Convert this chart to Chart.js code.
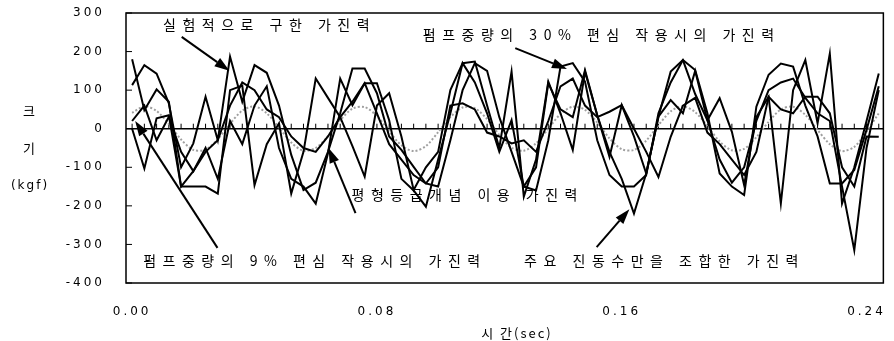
<!DOCTYPE html>
<html>
<head>
<meta charset="utf-8">
<script src="https://cdn.jsdelivr.net/npm/chart.js@4"></script>
<style>
html,body{margin:0;padding:0;background:#fff;}
</style>
</head>
<body>
<canvas id="grafik" width="894" height="341"></canvas>
<script>

// =========================
// DATA GRAFIK
// =========================

let sigan = [0,0.004,0.008,0.012,0.016,0.020,0.024,0.028,0.032,0.036,
0.040,0.044,0.048,0.052,0.056,0.060,0.064,0.068,0.072,0.076,
0.080,0.084,0.088,0.092,0.096,0.100,0.104,0.108,0.112,0.116,
0.120,0.124,0.128,0.132,0.136,0.140,0.144,0.148,0.152,0.156,
0.160,0.164,0.168,0.172,0.176,0.180,0.184,0.188,0.192,0.196,
0.200,0.204,0.208,0.212,0.216,0.220,0.224,0.228,0.232,0.236,
0.240,0.244];

// 실험적으로 구한 가진력
let silheom = [180,48,102,70,-150,-150,-150,-168,100,112,
-146,-40,14,-168,-60,130,80,30,-45,-124,
60,92,-20,-159,-100,-60,100,170,174,60,
-50,148,-176,-80,122,40,-55,148,35,-73,
61,-20,-116,31,148,178,90,22,79,-8,
-146,30,83,-194,100,178,14,195,-194,-100,
20,143];

// 펌프중량의 30% 편심
let pyeonsim30 = [113,165,143,66,-100,-38,83,-30,187,70,
165,145,60,-68,-159,-140,-60,40,156,156,
92,-20,-55,-99,-142,-150,-30,100,170,150,
30,-60,-150,-160,-30,161,170,122,-30,-120,
-150,-150,-120,40,120,178,152,40,-116,-150,
-172,57,140,169,161,60,-20,-142,-142,-107,
-3,110];

// 펌프중량의 9% 편심
let pyeonsim9 = [0,-103,27,35,-150,-110,-60,-30,60,120,
100,50,30,-20,-50,-60,-20,30,70,118,
40,-40,-80,-120,-142,-100,60,66,50,-10,
-20,-38,-30,-60,20,110,130,60,30,44,
61,0,-60,-125,-21,60,80,-10,-40,-80,
-120,-60,83,50,40,83,83,40,-100,-150,
-20,-21];

// 주요 진동수만을 조합한 가진력
let jindong = [20,60,-30,31,-60,-110,-50,-130,20,-40,
60,110,-50,-130,-150,-194,-64,130,61,118,
118,22,-130,-160,-202,-80,40,170,120,40,
-60,22,-150,-100,118,50,30,152,35,-60,
-130,-220,-116,31,74,40,150,22,-80,-140,
-100,20,100,120,130,80,40,20,-150,-315,
-50,100];

// 평형등급개념 이용 가진력
let pyeonghyeong = [41,58,46,12,-28,-55,-54,-27,13,47,
58,40,3,-36,-57,-50,-19,22,52,56,
33,-7,-43,-58,-45,-9,30,55,53,25,
-16,-49,-57,-38,0,38,57,49,16,-25,
-53,-55,-31,9,45,58,43,7,-33,-56,
-52,-22,18,50,57,36,-3,-40,-58,-47,
-8,40];

let tickX = [0,0.08,0.16,0.24];
let tickY = [300,200,100,0,-100,-200,-300,-400];

// 주석: [글, 시간, 크기]
let keterangan = [
["실험적으로 구한 가진력",0.0101,269],
["펌프중량의 30% 편심 작용시의 가진력",0.095,243],
["평형등급개념 이용 가진력",0.0717,-172],
["펌프중량의 9% 편심 작용시의 가진력",0.0036,-343],
["주요 진동수만을 조합한 가진력",0.1281,-343]
];

// 화살표: [시작 시간, 시작 크기, 끝 시간, 끝 크기]
let panah = [
[0.0162,238,0.0318,150],
[0.1252,209,0.1421,155],
[0.0279,-309,0.0010,20],
[0.0730,-219,0.0642,-50],
[0.1518,-307,0.1625,-209]
];


function titik(arr){
return sigan.map(function(t,i){ return {x:t,y:arr[i]}; });
}

function garisHitam(label,arr){
return {
label:label,
data:titik(arr),
borderColor:'#000',
borderWidth:2,
pointRadius:0,
tension:0
};
}


// =========================
// PLUGIN HIASAN
// =========================

let hiasan = {
id:'hiasan',

beforeDraw(chart){
chart.ctx.letterSpacing='3px';
},

beforeDatasetsDraw(chart){
let ctx=chart.ctx, a=chart.chartArea, sx=chart.scales.x, sy=chart.scales.y;
let y0=sy.getPixelForValue(0);
ctx.save();
ctx.strokeStyle='#000';
ctx.lineWidth=1.5;
ctx.beginPath();
ctx.moveTo(a.left,y0);
ctx.lineTo(a.right,y0);
ctx.stroke();
ctx.lineWidth=1;
ctx.beginPath();
sigan.forEach(function(t){
let x=sx.getPixelForValue(t);
ctx.moveTo(x,y0);
ctx.lineTo(x,y0-5);
});
ctx.stroke();
ctx.restore();
},

afterDraw(chart){
let ctx=chart.ctx, a=chart.chartArea, sx=chart.scales.x, sy=chart.scales.y;
ctx.save();
ctx.strokeStyle='#000';
ctx.lineWidth=1.5;
ctx.strokeRect(a.left,a.top,a.right-a.left,a.bottom-a.top);

// tick dalam sumbu y
ctx.lineWidth=1;
ctx.beginPath();
tickY.forEach(function(v){
let y=sy.getPixelForValue(v);
ctx.moveTo(a.left,y);
ctx.lineTo(a.left+6,y);
});
ctx.stroke();

// panah
ctx.fillStyle='#000';
ctx.lineWidth=2;
panah.forEach(function(p){
let x1=sx.getPixelForValue(p[0]), y1=sy.getPixelForValue(p[1]);
let x2=sx.getPixelForValue(p[2]), y2=sy.getPixelForValue(p[3]);
let ang=Math.atan2(y2-y1,x2-x1);
let hl=15, hw=5;
let bx=x2-hl*Math.cos(ang), by=y2-hl*Math.sin(ang);
ctx.beginPath();
ctx.moveTo(x1,y1);
ctx.lineTo(bx,by);
ctx.stroke();
ctx.beginPath();
ctx.moveTo(x2,y2);
ctx.lineTo(bx+hw*Math.sin(ang),by-hw*Math.cos(ang));
ctx.lineTo(bx-hw*Math.sin(ang),by+hw*Math.cos(ang));
ctx.closePath();
ctx.fill();
});

// tulisan
ctx.font='14px "Noto Sans CJK KR"';
ctx.letterSpacing='6.5px';
ctx.textAlign='left';
ctx.textBaseline='middle';
keterangan.forEach(function(k){
ctx.fillText(k[0],sx.getPixelForValue(k[1]),sy.getPixelForValue(k[2]));
});

// judul sumbu
ctx.letterSpacing='2px';
ctx.textAlign='center';
ctx.font='13px "Noto Sans CJK KR"';
ctx.fillText('크',30,111);
ctx.fillText('기',30,148);
ctx.font='12px "DejaVu Sans"';
ctx.fillText('(kgf)',30,186);
ctx.font='13px "Noto Sans CJK KR"';
ctx.fillText('시 간(sec)',517,333);
ctx.restore();
}
};


// =========================
// GRAFIK
// =========================

let ctx1=document.getElementById('grafik');

new Chart(ctx1,{
type:'line',
data:{
datasets:[
garisHitam('실험적으로 구한 가진력',silheom),
garisHitam('펌프중량의 30% 편심 작용시의 가진력',pyeonsim30),
garisHitam('펌프중량의 9% 편심 작용시의 가진력',pyeonsim9),
garisHitam('주요 진동수만을 조합한 가진력',jindong),
{
label:'평형등급개념 이용 가진력',
data:titik(pyeonghyeong),
borderColor:'#a0a0a0',
borderWidth:2,
borderDash:[2,2],
pointRadius:0,
tension:0.3
}
]
},
options:{
responsive:false,
animation:false,
devicePixelRatio:1,
layout:{padding:{top:13,right:5,left:0,bottom:0}},
plugins:{legend:{display:false},tooltip:{enabled:false}},
scales:{
x:{
type:'linear',
min:-0.002,
max:0.2455,
afterFit:function(s){ s.height=58; },
afterBuildTicks:function(s){ s.ticks=tickX.map(function(v){return {value:v};}); },
grid:{display:false},
border:{display:false},
ticks:{
padding:14,
color:'#000',
maxRotation:0,
font:{family:'DejaVu Sans',size:12},
callback:function(v){ return v.toFixed(2); }
}
},
y:{
min:-400,
max:300,
afterFit:function(s){ s.width=126; },
afterBuildTicks:function(s){ s.ticks=tickY.map(function(v){return {value:v};}); },
grid:{display:true,drawOnChartArea:false,drawTicks:true,tickLength:21,color:'rgba(0,0,0,0)'},
border:{display:false},
ticks:{
padding:0,
color:'#000',
font:{family:'DejaVu Sans',size:12}
}
}
}
},
plugins:[hiasan]
});

</script>
</body>
</html>
